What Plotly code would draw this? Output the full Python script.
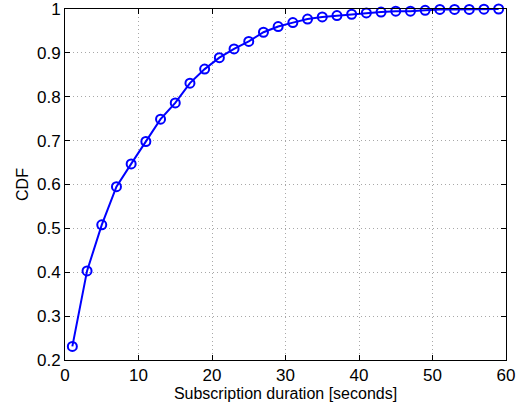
import plotly.graph_objects as go

duration = [1, 3, 5, 7, 9, 11, 13, 15, 17, 19, 21, 23, 25, 27, 29,
            31, 33, 35, 37, 39, 41, 43, 45, 47, 49, 51, 53, 55, 57, 59]
cdf = [0.231, 0.403, 0.508, 0.595, 0.647, 0.698, 0.749, 0.786, 0.831, 0.863,
       0.889, 0.909, 0.926, 0.947, 0.960, 0.969, 0.977, 0.982, 0.985, 0.988,
       0.991, 0.993, 0.995, 0.995, 0.997, 0.999, 0.999, 0.999, 0.9995, 1.0]
x_ticks = [0, 10, 20, 30, 40, 50, 60]
y_ticks = [0.2, 0.3, 0.4, 0.5, 0.6, 0.7, 0.8, 0.9, 1.0]
y_labels = ["0.2", "0.3", "0.4", "0.5", "0.6", "0.7", "0.8", "0.9", "1"]

FONT = "Liberation Sans, Arial, sans-serif"

fig = go.Figure()
fig.add_trace(go.Scatter(
    x=duration, y=cdf, mode="lines+markers",
    line=dict(color="#0000FF", width=2),
    marker=dict(symbol="circle-open", size=9, color="#0000FF",
                line=dict(width=2, color="#0000FF")),
    cliponaxis=False,
))

axis_common = dict(
    showline=True, linecolor="black", linewidth=1, mirror="ticks",
    ticks="inside", ticklen=5, tickcolor="black",
    showgrid=True, gridcolor="#a8a8a8", griddash="1px,3px", gridwidth=1,
    zeroline=False, ticklabeloverflow="allow",
    tickfont=dict(family=FONT, size=17, color="black"),
)

fig.update_xaxes(range=[0, 60], tickvals=x_ticks,
                 title=dict(text="Subscription duration [seconds]", standoff=0,
                            font=dict(family=FONT, size=16, color="black")),
                 **axis_common)
fig.update_yaxes(range=[0.2, 1.0], tickvals=y_ticks, ticktext=y_labels,
                 title=dict(text="CDF", standoff=4,
                            font=dict(family=FONT, size=16, color="black")),
                 **axis_common)

fig.update_layout(
    width=528, height=406,
    margin=dict(l=65, r=22, t=9, b=46, autoexpand=False),
    plot_bgcolor="white", paper_bgcolor="white",
    showlegend=False,
    hovermode=False,
)

fig.write_html("out.html",
               config={"displayModeBar": False, "staticPlot": True},
               post_script="document.body.style.margin='0';document.body.style.overflow='hidden';")
